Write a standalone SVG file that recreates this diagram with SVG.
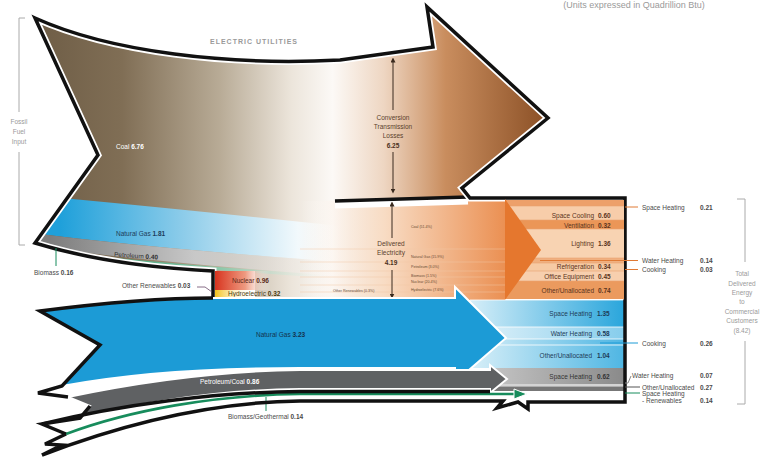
<svg xmlns="http://www.w3.org/2000/svg" width="770" height="457" viewBox="0 0 770 457">
<style>
.ol{fill:none;stroke:#111;stroke-width:3.5;stroke-linejoin:miter}
.wl{fill:none;stroke:#fff;stroke-width:7;stroke-linejoin:miter}
.t{font-family:"Liberation Sans",Arial,sans-serif;font-size:6.5px;fill:#4a4a4a}
.b{font-weight:bold}
.g{fill:#9a9a9a}
.s{font-family:"Liberation Sans",Arial,sans-serif;font-size:3.6px;fill:#6a4a35}
.lo{stroke:#e07a35;stroke-width:1;fill:none}
.lb{stroke:#1c9bd6;stroke-width:1;fill:none}
.lgr{stroke:#8a8a8a;stroke-width:1;fill:none}
.lgn{stroke:#178c5c;stroke-width:1;fill:none}
.br{stroke:#aaa;stroke-width:1;fill:none}
.ar{stroke:#3a2a1e;stroke-width:1;fill:none}
.sep{stroke:#e9a371;stroke-width:0.6;fill:none}
</style>
<defs>
<linearGradient id="gCoal" gradientUnits="userSpaceOnUse" x1="35" y1="0" x2="548" y2="0">
<stop offset="0" stop-color="#6e5d46"/><stop offset="0.17" stop-color="#806e55"/><stop offset="0.36" stop-color="#b8ab96"/><stop offset="0.5" stop-color="#ece5db"/><stop offset="0.58" stop-color="#fcf9f6"/><stop offset="0.68" stop-color="#eed6c2"/><stop offset="0.8" stop-color="#c98d5e"/><stop offset="1" stop-color="#8a4f25"/>
</linearGradient>
<linearGradient id="gGas" gradientUnits="userSpaceOnUse" x1="60" y1="0" x2="340" y2="0">
<stop offset="0" stop-color="#1fa0da"/><stop offset="0.45" stop-color="#8fcdea"/><stop offset="0.85" stop-color="#f2f9fc"/><stop offset="1" stop-color="#fff" stop-opacity="0"/>
</linearGradient>
<linearGradient id="gPet" gradientUnits="userSpaceOnUse" x1="50" y1="0" x2="340" y2="0">
<stop offset="0" stop-color="#7d7d7d"/><stop offset="0.5" stop-color="#c8c8c8"/><stop offset="1" stop-color="#fff" stop-opacity="0"/>
</linearGradient>
<linearGradient id="gBio" gradientUnits="userSpaceOnUse" x1="40" y1="0" x2="340" y2="0">
<stop offset="0" stop-color="#178c5c"/><stop offset="0.6" stop-color="#8cc8aa"/><stop offset="1" stop-color="#fff" stop-opacity="0"/>
</linearGradient>
<linearGradient id="gOr" gradientUnits="userSpaceOnUse" x1="300" y1="0" x2="540" y2="0">
<stop offset="0" stop-color="#fff" stop-opacity="0"/><stop offset="0.35" stop-color="#f8dcc4"/><stop offset="1" stop-color="#e77a32"/>
</linearGradient>
<linearGradient id="gNuke" gradientUnits="userSpaceOnUse" x1="215" y1="0" x2="270" y2="0">
<stop offset="0" stop-color="#d8341f"/><stop offset="0.55" stop-color="#ee9a80"/><stop offset="1" stop-color="#fff" stop-opacity="0"/>
</linearGradient>
<linearGradient id="gHyd" gradientUnits="userSpaceOnUse" x1="215" y1="0" x2="255" y2="0">
<stop offset="0" stop-color="#f4c21c"/><stop offset="1" stop-color="#fff" stop-opacity="0"/>
</linearGradient>
<linearGradient id="gB1" gradientUnits="userSpaceOnUse" x1="470" y1="0" x2="624" y2="0">
<stop offset="0" stop-color="#d6eef8"/><stop offset="1" stop-color="#2aa6dc"/>
</linearGradient>
<linearGradient id="gB2" gradientUnits="userSpaceOnUse" x1="470" y1="0" x2="624" y2="0">
<stop offset="0" stop-color="#e4f3fa"/><stop offset="1" stop-color="#86cdec"/>
</linearGradient>
<linearGradient id="gB3" gradientUnits="userSpaceOnUse" x1="470" y1="0" x2="624" y2="0">
<stop offset="0" stop-color="#d8eff8"/><stop offset="1" stop-color="#4fb6e3"/>
</linearGradient>
<linearGradient id="gG1" gradientUnits="userSpaceOnUse" x1="490" y1="0" x2="624" y2="0">
<stop offset="0" stop-color="#c4c4c4"/><stop offset="1" stop-color="#8a8a8a"/>
</linearGradient>
<marker id="mA" viewBox="0 0 6 6" refX="3" refY="3" markerWidth="5" markerHeight="5" orient="auto-start-reverse" markerUnits="userSpaceOnUse">
<path d="M0,0 L6,3 L0,6 Z" fill="#3a2a1e"/>
</marker>
<clipPath id="cU">
<path d="M35,18 C110,52 230,66 340,60 L433,47 L427,7 L548,118 L462,188 L470,198 L505,198 L505,300 L300,300 L255,298 L255,271 L213,271 Q110,266 35,243 L98,155 Z"/>
</clipPath>
</defs>

<rect width="770" height="457" fill="#fff"/>
<text class="t g" x="634" y="8" style="font-size:9px" text-anchor="middle">(Units expressed in Quadrillion Btu)</text>

<g id="electric-utilities">
<path d="M35,18 C110,52 230,66 340,60 L433,47 L427,7 L548,118 L462,188 L470,198 L505,198 L505,300 L300,300 L255,298 L255,271 L213,271 Q110,266 35,243 L98,155 Z" fill="url(#gCoal)"/>
<g clip-path="url(#cU)">
<path d="M40,196 Q150,206 340,226 L340,262 Q150,248 40,234 Z" fill="url(#gGas)"/>
<path d="M40,234 Q150,248 340,262 L340,276 Q150,262 40,247 Z" fill="url(#gPet)"/>
<path d="M40,251 Q150,265 340,277" stroke="url(#gBio)" stroke-width="3" fill="none"/>
<path d="M300,201 L505,199 L505,300 L300,300 Z" fill="url(#gOr)"/>
</g>
<path d="M300,249 H505 M300,262 H505 M300,271 H505 M300,277 H505 M300,285 H505 M300,292 H505" stroke="#f3c9a6" stroke-width="0.6" fill="none" opacity="0.8"/>
<path class="wl" d="M335,205 L468,201" stroke-width="4"/>
<path class="ol" d="M335,201 L468,197" stroke-width="2.5"/>
<path class="wl" d="M625,300 L625,198 L470,198 L462,188 L548,118 L427,7 L433,47 L340,60 C230,66 110,52 35,18 L98,155 L35,243 Q110,266 213,271 L213,298"/>
<path class="ol" d="M625,300 L625,198 L470,198 L462,188 L548,118 L427,7 L433,47 L340,60 C230,66 110,52 35,18 L98,155 L35,243 Q110,266 213,271 L213,298"/>
<text class="t g b" x="210" y="44" style="font-size:7px;letter-spacing:1px">ELECTRIC UTILITIES</text>
<text class="t" x="116" y="149" style="fill:#fff">Coal <tspan class="b">6.76</tspan></text>
<text class="t" x="116" y="236" style="fill:#1d3c5a">Natural Gas <tspan class="b">1.81</tspan></text>
<text class="t" x="114" y="256.5" transform="rotate(4 114 256.5)" style="fill:#333">Petroleum <tspan class="b">0.40</tspan></text>
<path class="ar" d="M393,110 V60" marker-end="url(#mA)"/>
<path class="ar" d="M393,152 V191" marker-end="url(#mA)"/>
<text class="t" x="393" y="120" text-anchor="middle" style="fill:#5a3f2c">Conversion</text>
<text class="t" x="393" y="129" text-anchor="middle" style="fill:#5a3f2c">Transmission</text>
<text class="t" x="393" y="138" text-anchor="middle" style="fill:#5a3f2c">Losses</text>
<text class="t b" x="393" y="148" text-anchor="middle" style="fill:#4a3020">6.25</text>
<path class="ar" d="M392,238 V204" marker-end="url(#mA)"/>
<path class="ar" d="M392,270 V296" marker-end="url(#mA)"/>
<text class="t" x="391" y="246" text-anchor="middle" style="fill:#5a3f2c">Delivered</text>
<text class="t" x="391" y="255" text-anchor="middle" style="fill:#5a3f2c">Electricity</text>
<text class="t b" x="391" y="265" text-anchor="middle" style="fill:#4a3020">4.19</text>
<text class="s" x="411" y="228">Coal (51.4%)</text>
<text class="s" x="411" y="258">Natural Gas (15.9%)</text>
<text class="s" x="411" y="268">Petroleum (3.0%)</text>
<text class="s" x="411" y="277">Biomass (1.5%)</text>
<text class="s" x="411" y="283">Nuclear (20.4%)</text>
<text class="s" x="411" y="291">Hydroelectric (7.6%)</text>
<text class="s" x="333" y="292">Other Renewables (0.3%)</text>
</g>

<g id="nuclear-hydro">
<rect x="215" y="271" width="55" height="19" fill="url(#gNuke)"/>
<rect x="215" y="290" width="45" height="7" fill="url(#gHyd)"/>
<text class="t" x="232" y="283" style="fill:#5a2a1a">Nuclear <tspan class="b">0.96</tspan></text>
<text class="t" x="228" y="295.5" style="fill:#4a3a10">Hydroelectric <tspan class="b">0.32</tspan></text>
</g>

<g id="left-labels">
<path class="br" d="M25,18 H19 V112 M19,152 V245 H25"/>
<text class="t g" x="19" y="124" text-anchor="middle">Fossil</text>
<text class="t g" x="19" y="134" text-anchor="middle">Fuel</text>
<text class="t g" x="19" y="144" text-anchor="middle">Input</text>
<path class="lgn" d="M56,248 V266"/>
<text class="t" x="34" y="275">Biomass <tspan class="b">0.16</tspan></text>
<path d="M197,287 H205 L212,292" stroke="#6a4a6a" stroke-width="0.8" fill="none"/>
<text class="t" x="122" y="288">Other Renewables <tspan class="b">0.03</tspan></text>
</g>

<g id="panel">
<rect x="505" y="200" width="119" height="6" fill="#eda06a"/>
<rect x="505" y="206" width="119" height="14" fill="#f7cdaa"/>
<rect x="505" y="220" width="119" height="9" fill="#eb9657"/>
<rect x="505" y="229" width="119" height="29" fill="#f8d3b2"/>
<rect x="505" y="258" width="119" height="5" fill="#f0b080"/>
<rect x="505" y="263" width="119" height="8" fill="#f6caa4"/>
<rect x="505" y="271" width="119" height="10" fill="#f7cfae"/>
<rect x="505" y="281" width="119" height="18" fill="#eb9a5e"/>
<path class="sep" d="M505,206 H624 M505,220 H624 M505,229 H624 M505,258 H624 M505,263 H624 M505,271 H624 M505,281 H624"/>
<path d="M505,199 L541,250 L505,300 Z" fill="#e5772e"/>
<rect x="470" y="300" width="154" height="27" fill="url(#gB1)"/>
<rect x="470" y="327" width="154" height="12" fill="url(#gB2)"/>
<rect x="470" y="339" width="154" height="6" fill="url(#gB3)"/>
<rect x="470" y="345" width="154" height="23" fill="url(#gB3)"/>
<path d="M470,300 H624 M470,327 H624 M470,339 H624 M470,345 H624" stroke="#fff" stroke-width="0.8"/>
<rect x="490" y="368" width="134" height="16" fill="url(#gG1)"/>
<rect x="490" y="384" width="134" height="2.5" fill="#d4d4d4"/>
<rect x="490" y="386.5" width="134" height="4.5" fill="#777"/>
<text class="t" x="594" y="218" text-anchor="end" style="fill:#5a3420">Space Cooling</text><text class="t b" x="598" y="218" style="fill:#5a3420">0.60</text>
<text class="t" x="594" y="227.5" text-anchor="end" style="fill:#5a3420">Ventilation</text><text class="t b" x="598" y="227.5" style="fill:#5a3420">0.32</text>
<text class="t" x="594" y="246" text-anchor="end" style="fill:#5a3420">Lighting</text><text class="t b" x="598" y="246" style="fill:#5a3420">1.36</text>
<text class="t" x="594" y="268.5" text-anchor="end" style="fill:#5a3420">Refrigeration</text><text class="t b" x="598" y="268.5" style="fill:#5a3420">0.34</text>
<text class="t" x="594" y="279" text-anchor="end" style="fill:#5a3420">Office Equipment</text><text class="t b" x="598" y="279" style="fill:#5a3420">0.45</text>
<text class="t" x="594" y="292.5" text-anchor="end" style="fill:#5a3420">Other/Unallocated</text><text class="t b" x="598" y="292.5" style="fill:#5a3420">0.74</text>
<text class="t" x="592" y="316" text-anchor="end" style="fill:#1e3c58">Space Heating</text><text class="t b" x="597" y="316" style="fill:#1e3c58">1.35</text>
<text class="t" x="592" y="336" text-anchor="end" style="fill:#1e3c58">Water Heating</text><text class="t b" x="597" y="336" style="fill:#1e3c58">0.58</text>
<text class="t" x="592" y="358" text-anchor="end" style="fill:#1e3c58">Other/Unallocated</text><text class="t b" x="597" y="358" style="fill:#1e3c58">1.04</text>
<text class="t" x="592" y="378.5" text-anchor="end" style="fill:#333">Space Heating</text><text class="t b" x="597" y="378.5" style="fill:#333">0.62</text>
</g>

<g id="natural-gas">
<path d="M40,311 C110,302 170,298 215,298 L455,298 L455,287 L506,338 L455,382 L455,368 L300,368 C200,368 120,375 62,386 L100,345 Z" fill="#1c9bd6" stroke="#fff" stroke-width="2" stroke-linejoin="miter"/>
<text class="t" x="256" y="337" style="fill:#14324e">Natural Gas <tspan class="b">3.23</tspan></text>
</g>

<g id="petroleum-coal">
<path d="M68,397 C130,384 215,371 300,370 L490,370 L490,365 L507,379 L490,393 L490,389 L300,389 C215,390 140,403 80,418 L90,406 Z" fill="#5f6163" stroke="#fff" stroke-width="2"/>
<text class="t" x="200" y="384" style="fill:#fff">Petroleum/Coal <tspan class="b">0.86</tspan></text>
</g>

<g id="biomass-geothermal">
<path d="M66,434 C130,410 215,395 300,394 L515,394" stroke="#fff" stroke-width="6" fill="none"/>
<path d="M66,434 C130,410 215,395 300,394 L515,394" stroke="#178c5c" stroke-width="2.6" fill="none"/>
<path d="M514,389 L527,394 L514,399 Z" fill="#178c5c" stroke="#fff" stroke-width="1"/>
<path class="lgn" d="M266,397 V411"/>
<text class="t" x="228" y="419">Biomass/Geothermal <tspan class="b">0.14</tspan></text>
</g>

<g id="connectors">
<path class="ol" d="M213,298 C170,298 110,302 40,311 L100,345 L62,386 L38,393 L68,397"/>
<path class="ol" d="M90,406 L80,418 L42,424 L66,434" stroke-width="3"/>
<path class="ol" d="M42,424 C120,405 215,392 300,391.5 L490,391.5" stroke-width="1.2"/>
<path class="ol" d="M66,434 L45,444 L62,445 L42,455 C120,425 210,402 300,401 L503,401 L497,408 L518,402 L528,409 L528,402 L625,402 L625,300"/>
<path class="lo" d="M625,207 H638 M540,260.5 H638 M625,269.5 H638"/>
<path class="lb" d="M600,343 H638"/>
<path class="lgr" d="M625,383 H628 L631,376"/>
<path d="M625,387 H640" stroke="#555" stroke-width="1"/>
<path class="lgn" d="M625,393 H640"/>
<path class="br" d="M737,199 H745 V262 M745,341 V404 H737"/>
</g>

<g id="right-labels">
<text class="t" x="642" y="210">Space Heating</text><text class="t b" x="700" y="210">0.21</text>
<text class="t" x="642" y="263">Water Heating</text><text class="t b" x="700" y="263">0.14</text>
<text class="t" x="642" y="272">Cooking</text><text class="t b" x="700" y="272">0.03</text>
<text class="t" x="642" y="345.5">Cooking</text><text class="t b" x="700" y="345.5">0.26</text>
<text class="t" x="632" y="378">Water Heating</text><text class="t b" x="700" y="378">0.07</text>
<text class="t" x="642" y="389.5">Other/Unallocated</text><text class="t b" x="700" y="389.5">0.27</text>
<text class="t" x="642" y="396">Space Heating</text>
<text class="t" x="642" y="403">- Renewables</text><text class="t b" x="700" y="403">0.14</text>
<text class="t g" x="742" y="276" text-anchor="middle">Total</text>
<text class="t g" x="742" y="285.5" text-anchor="middle">Delivered</text>
<text class="t g" x="742" y="295" text-anchor="middle">Energy</text>
<text class="t g" x="742" y="304" text-anchor="middle">to</text>
<text class="t g" x="742" y="313.5" text-anchor="middle">Commercial</text>
<text class="t g" x="742" y="323" text-anchor="middle">Customers</text>
<text class="t g" x="742" y="332.5" text-anchor="middle">(8.42)</text>
</g>
</svg>
